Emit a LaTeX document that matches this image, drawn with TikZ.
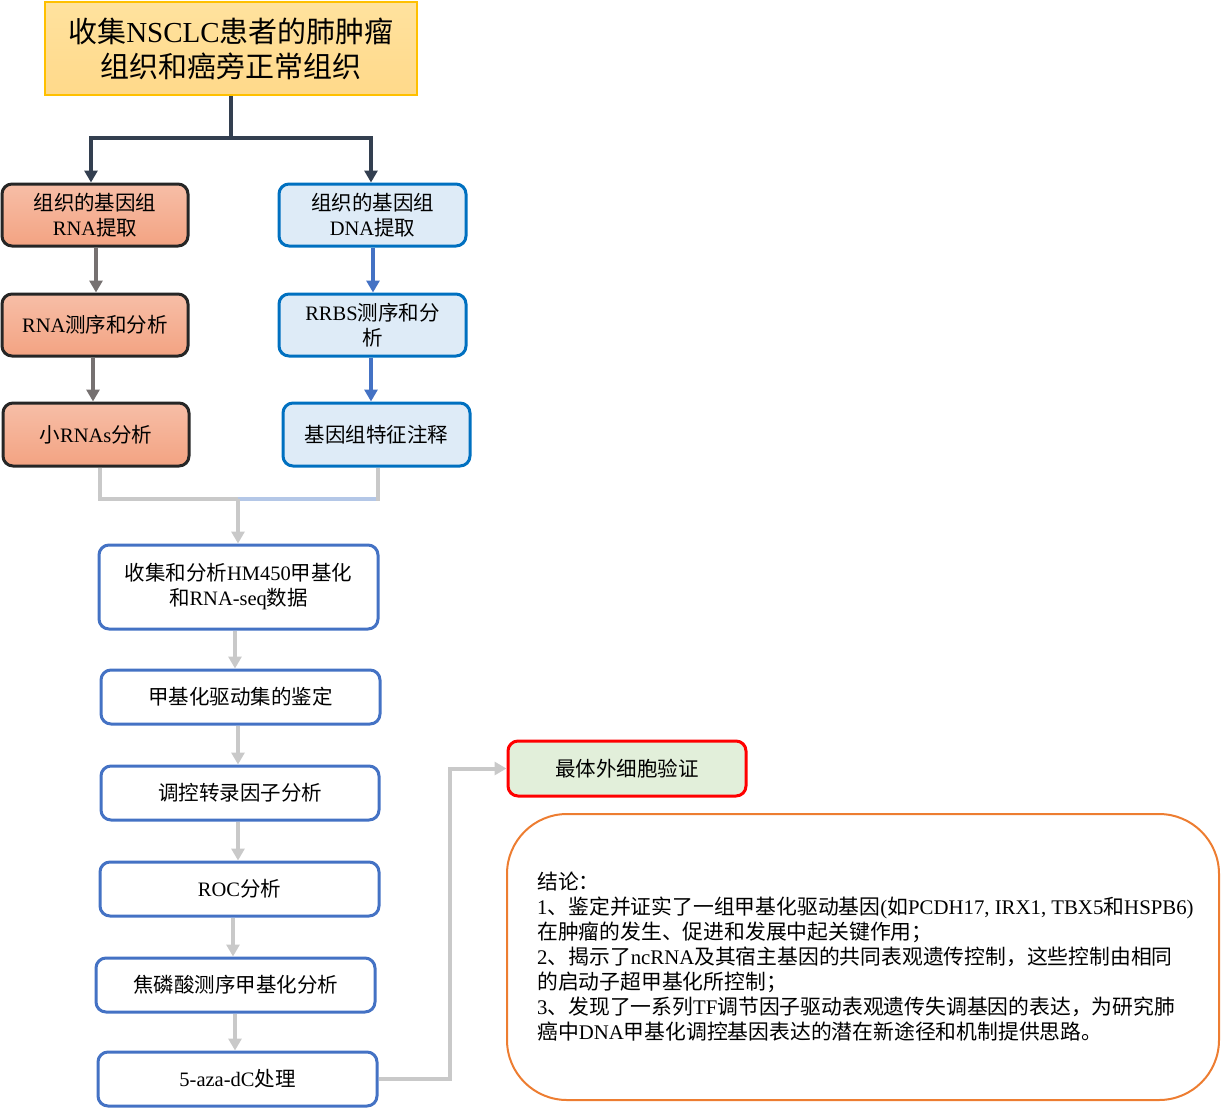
\documentclass[tikz,border=0pt]{standalone}
\usepackage{fontspec}
\setmainfont{Liberation Serif}
\newfontfamily\cjkfont{Noto Sans CJK SC}
\usetikzlibrary{arrows.meta}
\newXeTeXintercharclass\CJKcls
\makeatletter
\count@="4E00
\loop\ifnum\count@<"A000 \XeTeXcharclass\count@=\CJKcls \advance\count@ by 1 \repeat
\count@="3000
\loop\ifnum\count@<"3040 \XeTeXcharclass\count@=\CJKcls \advance\count@ by 1 \repeat
\count@="FF00
\loop\ifnum\count@<"FFF0 \XeTeXcharclass\count@=\CJKcls \advance\count@ by 1 \repeat
\makeatother
\XeTeXinterchartoks 0 \CJKcls = {\cjkfont}
\XeTeXinterchartoks 4095 \CJKcls = {\cjkfont}
\XeTeXinterchartoks \CJKcls 0 = {\rmfamily}
\XeTeXinterchartoks 4095 0 = {\rmfamily}
\XeTeXinterchartokenstate=1
\definecolor{topfill}{HTML}{FFD98A}
\definecolor{topfillA}{HTML}{FFE29E}
\definecolor{topedge}{HTML}{FFC000}
\definecolor{salA}{HTML}{F7BEA7}
\definecolor{salB}{HTML}{F3A382}
\definecolor{saledge}{HTML}{262626}
\definecolor{bluefill}{HTML}{DEEBF7}
\definecolor{blueedge}{HTML}{0070C0}
\definecolor{stepedge}{HTML}{4472C4}
\definecolor{valfill}{HTML}{E2EFDA}
\definecolor{valedge}{HTML}{FF0000}
\definecolor{conedge}{HTML}{ED7D31}
\definecolor{darkline}{HTML}{333F50}
\definecolor{rnaline}{HTML}{767171}
\definecolor{dnaline}{HTML}{4472C4}
\definecolor{greyline}{HTML}{C9C9C9}
\definecolor{lbline}{HTML}{B4C7E7}
\tikzset{
  tip/.style={-{Triangle[width=13pt,length=12pt]}},
  basebox/.style={rectangle, rounded corners=10pt, align=center, inner sep=2pt,
    font=\fontsize{20.5}{25}\selectfont},
  topbox/.style={basebox, rounded corners=0pt, draw=topedge, line width=2pt,
    top color=topfillA, bottom color=topfill, font=\fontsize{29}{35}\selectfont},
  rnabox/.style={basebox, draw=saledge, line width=3pt, top color=salA, bottom color=salB,
    minimum width=186pt, minimum height=62pt},
  dnabox/.style={basebox, draw=blueedge, line width=3pt, fill=bluefill,
    minimum width=187pt, minimum height=62pt},
  stepbox/.style={basebox, draw=stepedge, line width=3pt, fill=white,
    minimum width=279pt, minimum height=54pt},
  valbox/.style={basebox, draw=valedge, line width=3pt, fill=valfill},
  conbox/.style={rectangle, rounded corners=60pt, draw=conedge, line width=2pt, align=left},
  darkc/.style={draw=darkline, line width=4pt},
  rnac/.style={draw=rnaline, line width=4pt, tip},
  dnac/.style={draw=dnaline, line width=4pt, tip},
  greyc/.style={draw=greyline, line width=4pt},
}
\begin{document}
\begin{tikzpicture}[x=1pt,y=-1pt]
\useasboundingbox (0,0) rectangle (1221,1109);
% nodes
\node[topbox, minimum width=372pt, minimum height=93pt] (top) at (231,48.5)
  {收集NSCLC患者的肺肿瘤\\组织和癌旁正常组织};
\node[rnabox] (rna1) at (95,215) {组织的基因组\\RNA提取};
\node[dnabox] (dna1) at (372.5,215) {组织的基因组\\DNA提取};
\node[rnabox] (rna2) at (95,325) {RNA测序和分析};
\node[dnabox] (dna2) at (372.5,325) {RRBS测序和分\\析};
\node[rnabox, minimum height=63pt] (rna3) at (96,434.5) {小RNAs分析};
\node[dnabox, minimum height=63pt] (dna3) at (376.5,434.5) {基因组特征注释};
\node[stepbox, minimum height=84pt] (b1) at (238.5,587) {收集和分析HM450甲基化\\和RNA-seq数据};
\node[stepbox] (b2) at (240.5,697) {甲基化驱动集的鉴定};
\node[stepbox, minimum width=278pt] (b3) at (240,793) {调控转录因子分析};
\node[stepbox] (b4) at (239.5,889) {ROC分析};
\node[stepbox] (b5) at (235.5,985) {焦磷酸测序甲基化分析};
\node[stepbox] (b6) at (237.5,1079) {5-aza-dC处理};
\node[valbox, minimum width=238pt, minimum height=55pt] (val) at (627,768.5) {最体外细胞验证};
\node[conbox, minimum width=712pt, minimum height=286pt] (concl) at (863,957) {};
\node[anchor=west, align=left, inner sep=0pt, font=\fontsize{20.8}{25}\selectfont] (ctext) at (537,957)
  {结论：\\
   1、鉴定并证实了一组甲基化驱动基因(如PCDH17, IRX1, TBX5和HSPB6)\\
   在肿瘤的发生、促进和发展中起关键作用；\\
   2、揭示了ncRNA及其宿主基因的共同表观遗传控制，这些控制由相同\\
   的启动子超甲基化所控制；\\
   3、发现了一系列TF调节因子驱动表观遗传失调基因的表达，为研究肺\\
   癌中DNA甲基化调控基因表达的潜在新途径和机制提供思路。};
% top split
\coordinate (sp) at (231,138);
\draw[darkc] (top.south) -- (sp);
\draw[darkc, tip] (sp) -| (rna1.north -| 91,0);
\draw[darkc, tip] (sp) -| (dna1.north -| 371,0);
% rna / dna chains
\draw[rnac] (rna1.south -| 96,0) -- (rna2.north -| 96,0);
\draw[rnac] (rna2.south -| 93,0) -- (rna3.north -| 93,0);
\draw[dnac] (dna1.south -| 373,0) -- (dna2.north -| 373,0);
\draw[dnac] (dna2.south -| 371,0) -- (dna3.north -| 371,0);
% merge
\coordinate (mg) at (238,499);
\draw[greyc] (rna3.south -| 100,0) |- (mg);
\draw[draw=lbline, line width=4pt] (mg) -- (378,499);
\draw[greyc] (dna3.south -| 378,0) -- (378,501);
\draw[greyc, tip] (mg) -- (b1.north -| 238,0);
% step chain
\draw[greyc, tip] (b1.south -| 235,0) -- (b2.north -| 235,0);
\draw[greyc, tip] (b2.south -| 238,0) -- (b3.north -| 238,0);
\draw[greyc, tip] (b3.south -| 238,0) -- (b4.north -| 238,0);
\draw[greyc, tip] (b4.south -| 233,0) -- (b5.north -| 233,0);
\draw[greyc, tip] (b5.south -| 235,0) -- (b6.north -| 235,0);
\draw[greyc, tip] (b6.east) -- ++(71,0) |- (val.west);
\end{tikzpicture}
\end{document}
